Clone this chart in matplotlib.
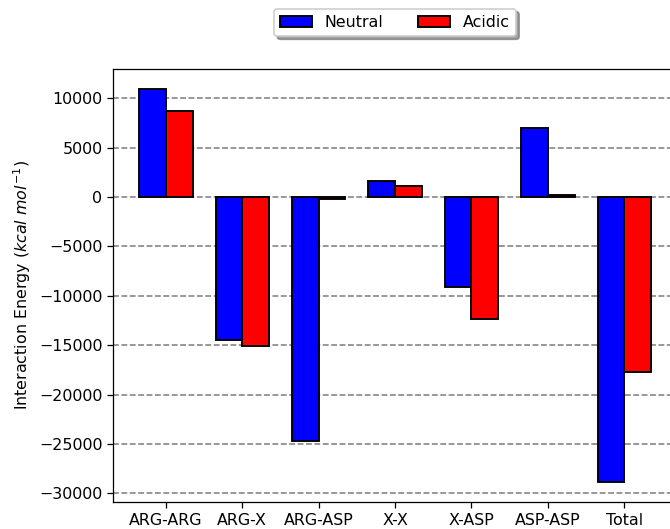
import numpy as np
import matplotlib
matplotlib.use("Agg")
from matplotlib import pyplot as plt

# interaction energies (kcal/mol)
categories = ["ARG-ARG", "ARG-X", "ARG-ASP", "X-X", "X-ASP", "ASP-ASP", "Total"]
neutral = [10950, -14460, -24700, 1620, -9120, 7020, -28880]
acidic = [8700, -15130, -230, 1140, -12330, 180, -17700]

dpi = 114
fig = plt.figure(figsize=(670 / dpi, 529 / dpi), dpi=dpi)
# axes runs slightly past the right edge, like the cropped original
ax = fig.add_axes([0.1694, 0.051, 0.8405, 0.8185])

x = np.arange(len(categories))
w = 0.35
ax.bar(x, neutral, -w, align="edge", color="blue", edgecolor="black",
       linewidth=1.2, label="Neutral")
ax.bar(x, acidic, w, align="edge", color="red", edgecolor="black",
       linewidth=1.2, label="Acidic")

ax.set_xticks(x)
ax.set_xticklabels(categories)
ax.set_ylabel(r"Interaction Energy ($kcal\ mol^{-1}$)")
ax.yaxis.grid(True, linestyle="--", color="gray", linewidth=1)
ax.set_axisbelow(True)

ax.legend(loc="upper center", bbox_to_anchor=(0.5, 1.158), ncol=2,
          shadow=True, fancybox=True, columnspacing=2.2)

fig.savefig("out.png", dpi=dpi)
